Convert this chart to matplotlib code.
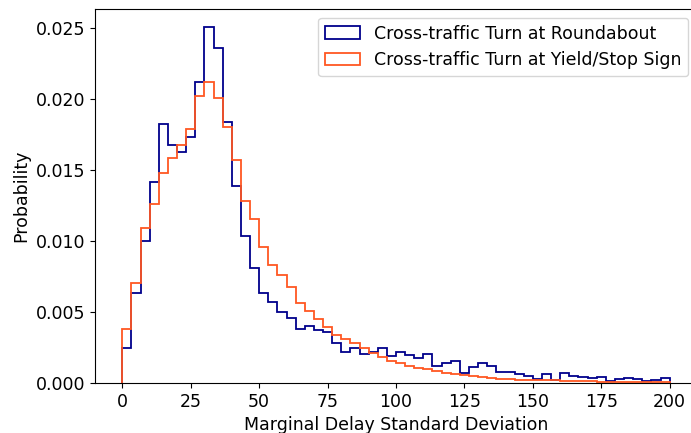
import numpy as np
import matplotlib
matplotlib.use("Agg")
import matplotlib.pyplot as plt

# 60 bins from 0 to 200, probability per bin
edges = np.linspace(0, 200, 61)

roundabout = [
    0.00244, 0.00632, 0.01000, 0.01418, 0.01824, 0.01676, 0.01629, 0.01730, 0.02124, 0.02510,
    0.02362, 0.01838, 0.01387, 0.01035, 0.00812, 0.00636, 0.00570, 0.00502, 0.00458, 0.00380,
    0.00404, 0.00373, 0.00362, 0.00284, 0.00216, 0.00244, 0.00204, 0.00221, 0.00244, 0.00188,
    0.00221, 0.00195, 0.00177, 0.00203, 0.00118, 0.00139, 0.00158, 0.00071, 0.00112, 0.00140,
    0.00121, 0.00075, 0.00078, 0.00064, 0.00050, 0.00027, 0.00061, 0.00020, 0.00068, 0.00051,
    0.00045, 0.00033, 0.00045, 0.00011, 0.00029, 0.00037, 0.00031, 0.00016, 0.00019, 0.00034,
]

yield_stop = [
    0.00378, 0.00702, 0.01094, 0.01261, 0.01481, 0.01589, 0.01676, 0.01793, 0.02024, 0.02122,
    0.02007, 0.01805, 0.01570, 0.01284, 0.01155, 0.00960, 0.00829, 0.00763, 0.00680, 0.00561,
    0.00509, 0.00451, 0.00392, 0.00338, 0.00307, 0.00279, 0.00244, 0.00214, 0.00185, 0.00156,
    0.00139, 0.00122, 0.00109, 0.00098, 0.00083, 0.00068, 0.00065, 0.00056, 0.00048, 0.00045,
    0.00038, 0.00031, 0.00026, 0.00024, 0.00022, 0.00021, 0.00019, 0.00018, 0.00016, 0.00014,
    0.00012, 0.00011, 0.00010, 0.00009, 0.00008, 0.00007, 0.00006, 0.00006, 0.00005, 0.00005,
]

labels = ["Cross-traffic Turn at Roundabout", "Cross-traffic Turn at Yield/Stop Sign"]

plt.rcParams["font.size"] = 12.5

fig = plt.figure(figsize=(6.91, 4.33), dpi=100)
ax = fig.add_axes([95 / 691, 50 / 433, 602 / 691, 374 / 433])

centers = (edges[:-1] + edges[1:]) / 2
ax.hist(centers, bins=edges, weights=roundabout, histtype="step",
        color="darkblue", linewidth=1.3, label=labels[0])
ax.hist(centers, bins=edges, weights=yield_stop, histtype="step",
        color="#ff5722", linewidth=1.3, label=labels[1])

ax.set_xticks([0, 25, 50, 75, 100, 125, 150, 175, 200])
ax.set_xlabel("Marginal Delay Standard Deviation")
ax.set_ylabel("Probability")
ax.legend(loc="upper right")

fig.savefig("out.png", dpi=100)
